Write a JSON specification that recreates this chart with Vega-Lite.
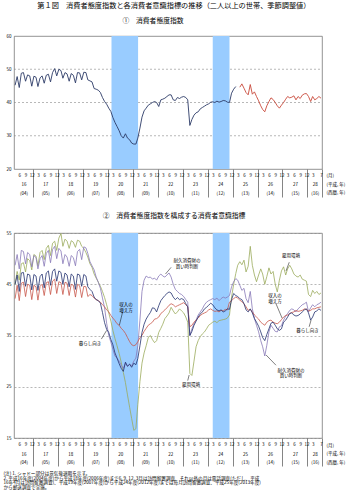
{
"$schema": "https://vega.github.io/schema/vega-lite/v6.json",
"padding": {"left": 2, "top": 1, "right": 2, "bottom": 0},
"background": "white",
"config": {
  "font": "Noto Sans CJK JP",
  "view": {"stroke": "#777", "strokeWidth": 0.8},
  "title": {"fontWeight": "normal", "color": "#000", "subtitleColor": "#000"},
  "axis": {"labelColor": "#000", "titleColor": "#000", "titleFontWeight": "normal"}
},
"title": {"text": "第１図　消費者態度指数と各消費者意識指標の推移（二人以上の世帯、季節調整値）", "fontSize": 7.2, "anchor": "middle", "offset": 9},
"spacing": 14,
"resolve": {"scale": {"color": "independent"}},
"datasets": {
"m": [
{"d":"2004/04/01","i":45.2,"k":45.0,"s":42.2,"y":45.0,"t":48.7},
{"d":"2004/05/01","i":47.8,"k":46.8,"s":44.8,"y":47.5,"t":50.8},
{"d":"2004/06/01","i":44.5,"k":43.6,"s":41.8,"y":45.8,"t":48.0},
{"d":"2004/07/01","i":48.8,"k":47.2,"s":45.2,"y":49.0,"t":51.6},
{"d":"2004/08/01","i":49.0,"k":47.3,"s":45.4,"y":49.2,"t":51.4},
{"d":"2004/09/01","i":46.4,"k":44.6,"s":42.6,"y":47.4,"t":49.0},
{"d":"2004/10/01","i":48.3,"k":47.0,"s":45.0,"y":50.0,"t":51.2},
{"d":"2004/11/01","i":48.0,"k":46.8,"s":44.8,"y":49.6,"t":50.8},
{"d":"2004/12/01","i":44.9,"k":43.9,"s":42.0,"y":47.8,"t":48.4},
{"d":"2005/01/01","i":47.9,"k":46.9,"s":44.8,"y":50.8,"t":50.6},
{"d":"2005/02/01","i":47.6,"k":46.6,"s":44.5,"y":50.5,"t":50.2},
{"d":"2005/03/01","i":44.8,"k":43.8,"s":41.9,"y":48.6,"t":48.0},
{"d":"2005/04/01","i":47.4,"k":46.5,"s":44.6,"y":51.2,"t":50.0},
{"d":"2005/05/01","i":48.0,"k":47.0,"s":45.0,"y":51.6,"t":50.6},
{"d":"2005/06/01","i":45.8,"k":44.3,"s":42.8,"y":49.8,"t":48.5},
{"d":"2005/07/01","i":48.2,"k":47.2,"s":45.3,"y":52.0,"t":51.0},
{"d":"2005/08/01","i":48.5,"k":47.6,"s":45.5,"y":52.6,"t":51.6},
{"d":"2005/09/01","i":46.2,"k":44.8,"s":43.0,"y":50.6,"t":49.2},
{"d":"2005/10/01","i":49.0,"k":47.5,"s":45.6,"y":53.0,"t":51.8},
{"d":"2005/11/01","i":50.2,"k":48.0,"s":46.0,"y":53.4,"t":52.4},
{"d":"2005/12/01","i":48.0,"k":45.6,"s":43.2,"y":51.6,"t":50.0},
{"d":"2006/01/01","i":50.0,"k":47.6,"s":45.5,"y":54.0,"t":52.0},
{"d":"2006/02/01","i":49.6,"k":47.3,"s":45.3,"y":54.9,"t":51.5},
{"d":"2006/03/01","i":47.3,"k":45.0,"s":43.0,"y":52.4,"t":49.0},
{"d":"2006/04/01","i":49.0,"k":47.2,"s":45.4,"y":53.8,"t":50.8},
{"d":"2006/05/01","i":48.6,"k":46.8,"s":45.2,"y":53.4,"t":50.3},
{"d":"2006/06/01","i":46.4,"k":44.5,"s":42.8,"y":52.0,"t":48.5},
{"d":"2006/07/01","i":48.7,"k":47.0,"s":45.0,"y":53.5,"t":50.6},
{"d":"2006/08/01","i":48.2,"k":46.6,"s":44.8,"y":53.2,"t":50.2},
{"d":"2006/09/01","i":45.9,"k":44.0,"s":42.5,"y":52.2,"t":48.6},
{"d":"2006/10/01","i":49.0,"k":47.0,"s":45.0,"y":53.6,"t":51.4},
{"d":"2006/11/01","i":48.9,"k":46.8,"s":44.7,"y":53.4,"t":51.8},
{"d":"2006/12/01","i":46.8,"k":44.6,"s":42.4,"y":52.4,"t":49.8},
{"d":"2007/01/01","i":49.1,"k":46.9,"s":44.6,"y":52.0,"t":52.3},
{"d":"2007/02/01","i":49.0,"k":46.6,"s":44.5,"y":51.2,"t":52.1},
{"d":"2007/03/01","i":46.8,"k":44.5,"s":42.6,"y":50.3,"t":51.0},
{"d":"2007/04/01","i":46.5,"k":44.0,"s":43.0,"y":49.0,"t":49.4},
{"d":"2007/05/01","i":46.2,"k":43.6,"s":42.8,"y":48.3,"t":48.6},
{"d":"2007/06/01","i":44.2,"k":42.5,"s":42.3,"y":47.0,"t":47.8},
{"d":"2007/07/01","i":44.0,"k":42.0,"s":42.0,"y":46.2,"t":46.4},
{"d":"2007/08/01","i":43.7,"k":41.8,"s":41.8,"y":45.4,"t":45.4},
{"d":"2007/09/01","i":43.0,"k":41.3,"s":41.5,"y":44.6,"t":44.2},
{"d":"2007/10/01","i":41.5,"k":39.5,"s":41.0,"y":43.6,"t":42.3},
{"d":"2007/11/01","i":40.3,"k":37.5,"s":40.6,"y":42.4,"t":40.4},
{"d":"2007/12/01","i":39.5,"k":36.2,"s":40.0,"y":41.0,"t":37.4},
{"d":"2008/01/01","i":38.3,"k":35.6,"s":39.6,"y":39.4,"t":35.0},
{"d":"2008/02/01","i":37.3,"k":34.2,"s":38.9,"y":37.8,"t":33.7},
{"d":"2008/03/01","i":35.5,"k":33.2,"s":38.4,"y":36.0,"t":32.3},
{"d":"2008/04/01","i":34.0,"k":31.6,"s":37.9,"y":34.4,"t":31.0},
{"d":"2008/05/01","i":32.8,"k":30.6,"s":37.3,"y":33.0,"t":30.6},
{"d":"2008/06/01","i":31.5,"k":29.5,"s":37.0,"y":31.5,"t":30.0},
{"d":"2008/07/01","i":30.0,"k":28.6,"s":36.4,"y":29.8,"t":29.2},
{"d":"2008/08/01","i":29.3,"k":28.0,"s":36.0,"y":27.8,"t":28.6},
{"d":"2008/09/01","i":30.6,"k":29.8,"s":35.4,"y":25.8,"t":29.6},
{"d":"2008/10/01","i":29.3,"k":29.0,"s":34.6,"y":23.4,"t":29.0},
{"d":"2008/11/01","i":28.8,"k":29.4,"s":33.8,"y":21.0,"t":29.4},
{"d":"2008/12/01","i":27.8,"k":28.8,"s":33.2,"y":18.8,"t":29.1},
{"d":"2009/01/01","i":27.5,"k":29.6,"s":33.0,"y":16.5,"t":30.0},
{"d":"2009/02/01","i":27.5,"k":29.3,"s":33.2,"y":16.8,"t":30.6},
{"d":"2009/03/01","i":29.3,"k":30.5,"s":33.8,"y":21.5,"t":33.0},
{"d":"2009/04/01","i":32.3,"k":33.0,"s":34.6,"y":26.0,"t":38.0},
{"d":"2009/05/01","i":35.6,"k":35.6,"s":35.0,"y":29.6,"t":43.6},
{"d":"2009/06/01","i":37.5,"k":37.2,"s":35.8,"y":31.6,"t":45.8},
{"d":"2009/07/01","i":38.3,"k":38.2,"s":36.4,"y":33.0,"t":46.6},
{"d":"2009/08/01","i":39.2,"k":38.9,"s":37.0,"y":34.6,"t":46.3},
{"d":"2009/09/01","i":39.6,"k":39.5,"s":37.3,"y":35.0,"t":46.4},
{"d":"2009/10/01","i":40.0,"k":40.4,"s":37.6,"y":34.2,"t":46.0},
{"d":"2009/11/01","i":40.3,"k":40.3,"s":38.2,"y":33.6,"t":46.2},
{"d":"2009/12/01","i":40.0,"k":39.6,"s":38.3,"y":34.0,"t":45.8},
{"d":"2010/01/01","i":38.8,"k":40.8,"s":38.6,"y":35.6,"t":46.6},
{"d":"2010/02/01","i":40.8,"k":41.8,"s":39.3,"y":36.4,"t":47.0},
{"d":"2010/03/01","i":41.0,"k":42.3,"s":39.6,"y":37.2,"t":46.6},
{"d":"2010/04/01","i":41.3,"k":42.8,"s":40.0,"y":38.3,"t":46.4},
{"d":"2010/05/01","i":41.8,"k":43.2,"s":40.4,"y":38.8,"t":46.8},
{"d":"2010/06/01","i":42.3,"k":43.5,"s":40.9,"y":39.4,"t":47.2},
{"d":"2010/07/01","i":42.3,"k":43.3,"s":41.2,"y":40.5,"t":46.4},
{"d":"2010/08/01","i":40.8,"k":42.5,"s":41.0,"y":39.8,"t":45.0},
{"d":"2010/09/01","i":40.6,"k":42.0,"s":40.6,"y":39.2,"t":44.0},
{"d":"2010/10/01","i":41.5,"k":42.4,"s":40.8,"y":39.6,"t":43.6},
{"d":"2010/11/01","i":41.2,"k":42.0,"s":41.0,"y":40.2,"t":43.2},
{"d":"2010/12/01","i":41.6,"k":42.2,"s":41.2,"y":39.8,"t":43.0},
{"d":"2011/01/01","i":41.8,"k":42.0,"s":41.4,"y":39.4,"t":42.6},
{"d":"2011/02/01","i":41.5,"k":41.2,"s":41.0,"y":38.6,"t":42.0},
{"d":"2011/03/01","i":40.8,"k":40.6,"s":40.6,"y":37.6,"t":41.5},
{"d":"2011/04/01","i":33.1,"k":35.0,"s":36.7,"y":27.6,"t":35.0},
{"d":"2011/05/01","i":34.9,"k":35.8,"s":37.0,"y":27.2,"t":36.3},
{"d":"2011/06/01","i":36.2,"k":37.0,"s":37.6,"y":30.0,"t":37.3},
{"d":"2011/07/01","i":36.9,"k":37.8,"s":38.0,"y":32.8,"t":38.0},
{"d":"2011/08/01","i":37.2,"k":38.6,"s":38.4,"y":34.0,"t":39.0},
{"d":"2011/09/01","i":38.1,"k":39.2,"s":38.9,"y":34.8,"t":39.6},
{"d":"2011/10/01","i":38.5,"k":39.6,"s":39.2,"y":35.3,"t":40.2},
{"d":"2011/11/01","i":38.9,"k":40.2,"s":39.4,"y":35.7,"t":41.0},
{"d":"2011/12/01","i":39.3,"k":40.5,"s":39.6,"y":36.3,"t":41.5},
{"d":"2012/01/01","i":39.6,"k":40.9,"s":40.0,"y":37.0,"t":41.8},
{"d":"2012/02/01","i":40.1,"k":41.3,"s":40.2,"y":37.3,"t":42.0},
{"d":"2012/03/01","i":40.2,"k":41.0,"s":39.9,"y":37.6,"t":42.2},
{"d":"2012/04/01","i":40.0,"k":40.4,"s":39.7,"y":37.8,"t":42.0},
{"d":"2012/05/01","i":40.4,"k":40.0,"s":39.8,"y":37.5,"t":42.3},
{"d":"2012/06/01","i":40.1,"k":39.8,"s":39.6,"y":37.9,"t":41.8},
{"d":"2012/07/01","i":40.3,"k":40.0,"s":39.9,"y":38.0,"t":42.2},
{"d":"2012/08/01","i":40.6,"k":39.6,"s":39.8,"y":38.1,"t":42.5},
{"d":"2012/09/01","i":40.5,"k":39.8,"s":40.1,"y":38.2,"t":42.3},
{"d":"2012/10/01","i":40.1,"k":40.2,"s":40.0,"y":38.4,"t":42.5},
{"d":"2012/11/01","i":40.0,"k":40.1,"s":41.5,"y":39.0,"t":42.8},
{"d":"2012/12/01","i":42.8,"k":42.0,"s":41.8,"y":42.5,"t":44.5},
{"d":"2013/01/01","i":44.0,"k":43.2,"s":42.2,"y":45.0,"t":45.5},
{"d":"2013/02/01","i":44.8,"k":42.8,"s":42.5,"y":47.1,"t":46.1},
{"d":"2013/03/01","k":42.6,"s":42.3,"y":48.7,"t":45.8},
{"d":"2013/04/01","j":44.6,"k":42.2,"s":41.9,"y":49.4,"t":44.8},
{"d":"2013/05/01","j":45.6,"k":42.0,"s":41.6,"y":48.8,"t":43.8},
{"d":"2013/06/01","j":44.3,"k":41.2,"s":41.2,"y":49.7,"t":44.2},
{"d":"2013/07/01","j":43.0,"k":40.0,"s":40.6,"y":47.4,"t":42.2},
{"d":"2013/08/01","j":42.3,"k":39.6,"s":39.9,"y":48.5,"t":41.4},
{"d":"2013/09/01","j":45.4,"k":40.2,"s":40.1,"y":52.4,"t":43.6},
{"d":"2013/10/01","j":42.5,"k":39.4,"s":39.6,"y":48.7,"t":40.2},
{"d":"2013/11/01","j":43.2,"k":38.3,"s":39.0,"y":46.8,"t":38.3},
{"d":"2013/12/01","j":41.8,"k":37.6,"s":38.6,"y":45.5,"t":37.0},
{"d":"2014/01/01","j":40.5,"k":36.8,"s":38.2,"y":46.8,"t":35.7},
{"d":"2014/02/01","j":39.0,"k":35.7,"s":37.6,"y":48.0,"t":34.0},
{"d":"2014/03/01","j":37.9,"k":34.6,"s":37.3,"y":47.0,"t":32.8},
{"d":"2014/04/01","j":37.2,"k":34.0,"s":37.0,"y":45.0,"t":31.0},
{"d":"2014/05/01","j":39.0,"k":35.2,"s":37.6,"y":46.5,"t":33.1},
{"d":"2014/06/01","j":40.3,"k":36.3,"s":37.9,"y":48.2,"t":35.7},
{"d":"2014/07/01","j":41.4,"k":37.4,"s":38.0,"y":47.0,"t":37.0},
{"d":"2014/08/01","j":40.9,"k":37.6,"s":37.6,"y":47.5,"t":36.4},
{"d":"2014/09/01","j":40.0,"k":37.0,"s":37.4,"y":45.0,"t":35.8},
{"d":"2014/10/01","j":39.0,"k":36.3,"s":37.3,"y":43.5,"t":35.7},
{"d":"2014/11/01","j":38.3,"k":36.0,"s":37.6,"y":45.8,"t":36.7},
{"d":"2014/12/01","j":39.2,"k":36.3,"s":38.1,"y":47.6,"t":36.9},
{"d":"2015/01/01","j":40.0,"k":37.6,"s":38.6,"y":48.4,"t":38.0},
{"d":"2015/02/01","j":41.0,"k":38.0,"s":38.9,"y":46.8,"t":38.8},
{"d":"2015/03/01","j":41.8,"k":38.6,"s":39.0,"y":48.0,"t":39.3},
{"d":"2015/04/01","j":41.4,"k":39.3,"s":39.3,"y":48.7,"t":39.9},
{"d":"2015/05/01","j":41.6,"k":39.4,"s":39.5,"y":48.0,"t":40.2},
{"d":"2015/06/01","j":42.0,"k":39.0,"s":39.6,"y":47.0,"t":40.0},
{"d":"2015/07/01","j":40.8,"k":38.8,"s":39.9,"y":46.6,"t":39.6},
{"d":"2015/08/01","j":41.8,"k":38.9,"s":39.7,"y":46.4,"t":40.2},
{"d":"2015/09/01","j":41.2,"k":39.2,"s":39.8,"y":46.8,"t":40.6},
{"d":"2015/10/01","j":42.2,"k":39.6,"s":39.9,"y":46.0,"t":41.0},
{"d":"2015/11/01","j":42.6,"k":40.0,"s":40.2,"y":45.8,"t":41.2},
{"d":"2015/12/01","j":42.7,"k":40.2,"s":40.1,"y":45.6,"t":41.5},
{"d":"2016/01/01","j":41.8,"k":39.4,"s":39.8,"y":43.0,"t":39.6},
{"d":"2016/02/01","j":40.3,"k":38.0,"s":39.9,"y":42.6,"t":40.4},
{"d":"2016/03/01","j":41.8,"k":38.6,"s":40.2,"y":43.8,"t":41.0},
{"d":"2016/04/01","j":40.8,"k":39.6,"s":40.2,"y":43.2,"t":40.6},
{"d":"2016/05/01","j":41.2,"k":39.8,"s":40.4,"y":43.6,"t":41.0},
{"d":"2016/06/01","j":41.8,"k":40.2,"s":40.5,"y":43.0,"t":41.2},
{"d":"2016/07/01","j":41.3,"k":39.9,"s":40.6,"y":43.3,"t":41.5}
],
"shade": [{"s":"2008/02/10","e":"2009/03/05"},{"s":"2012/03/01","e":"2012/11/01"}],
"grid1": [{"g":30,"a":"2004/03/16","b":"2016/07/16"},{"g":40,"a":"2004/03/16","b":"2016/07/16"},{"g":50,"a":"2004/03/16","b":"2016/07/16"}],
"ann": [
{"d":"2011/02/19","v":49.5,"t":"耐久消費財の\n買い時判断"},
{"d":"2008/09/10","v":40.9,"t":"収入の\n増え方"},
{"d":"2007/04/01","v":33.4,"t":"暮らし向き"},
{"d":"2015/04/19","v":50.5,"t":"雇用環境"},
{"d":"2011/04/19","v":25.3,"t":"雇用環境"},
{"d":"2014/08/28","v":42.7,"t":"収入の\n増え方"},
{"d":"2015/12/16","v":35.8,"t":"暮らし向き"},
{"d":"2015/04/19","v":28.1,"t":"耐久消費財の\n買い時判断"}
],
"lead": [
{"d":"2010/07/01","v":48.3,"d2":"2010/04/10","v2":47.0},
{"d":"2008/07/22","v":39.6,"d2":"2008/06/04","v2":37.0},
{"d":"2007/09/15","v":34.3,"d2":"2007/12/01","v2":36.0},
{"d":"2015/03/25","v":49.3,"d2":"2015/02/06","v2":47.6},
{"d":"2011/03/01","v":26.2,"d2":"2011/03/22","v2":27.3},
{"d":"2014/09/12","v":41.2,"d2":"2014/12/10","v2":38.4},
{"d":"2016/01/10","v":36.7,"d2":"2016/02/07","v2":38.0},
{"d":"2014/09/12","v":29.2,"d2":"2014/04/20","v2":31.2}
]
},
"vconcat": [
{
 "width": 308, "height": 133,
 "title": {"text": "①　消費者態度指数", "fontSize": 6.8, "offset": 8, "dx": -15},
 "resolve": {"axis": {"x": "independent"}},
 "layer": [
  {"data": {"name": "grid1", "format": {"parse": {"a": "date", "b": "date"}}},
   "mark": {"type": "rule", "color": "#888", "strokeWidth": 0.6, "strokeDash": [2, 2]},
   "encoding": {
    "x": {"field": "a", "type": "temporal", "scale": {"domain": [{"year":2004,"month":3,"date":16},{"year":2016,"month":7,"date":16}], "nice": false},
      "axis": {"orient": "bottom", "values": [{"year":2004,"month":8,"date":2},{"year":2005,"month":6,"date":17},{"year":2006,"month":6,"date":17},{"year":2007,"month":6,"date":17},
{"year":2008,"month":6,"date":17},{"year":2009,"month":6,"date":17},{"year":2010,"month":6,"date":17},{"year":2011,"month":6,"date":17},
{"year":2012,"month":6,"date":17},{"year":2013,"month":6,"date":17},{"year":2014,"month":6,"date":17},{"year":2015,"month":6,"date":17},
{"year":2016,"month":4,"date":2}],
        "labelExpr": "[toString(year(datum.value)-1988), '(' + timeFormat(datum.value, '%y') + ')']",
        "ticks": false, "labelPadding": 12.5, "labelLineHeight": 8.5,
        "labelFontSize": 4.5, "labelOverlap": false, "labelFlush": false, "labelBound": false, "grid": false, "domain": false,
        "title": ["(平成, 年)", "(西暦, 年)"], "titleX": 312, "titleY": 12, "titleAlign": "left", "titleBaseline": "top", "titleFontSize": 4.5, "titleLineHeight": 8.5, "titleAngle": 0}},
    "x2": {"field": "b"},
    "y": {"field": "g", "type": "quantitative", "scale": {"domain": [20, 60], "nice": false, "zero": false},
      "axis": {"values": [20, 30, 40, 50, 60], "grid": false,
               "domain": false, "ticks": false, "labelFontSize": 4.5, "labelPadding": 3, "title": null, "labelOverlap": false}}
   }},
  {"data": {"name": "shade", "format": {"parse": {"s": "date", "e": "date"}}},
   "mark": {"type": "rect", "color": "#99ccff"},
   "encoding": {
    "x": {"field": "s", "type": "temporal",
      "scale": {"domain": [{"year":2004,"month":3,"date":16},{"year":2016,"month":7,"date":16}], "nice": false},
      "axis": {"orient": "bottom", "values": [{"year":2004,"month":12,"date":16},{"year":2005,"month":12,"date":16},{"year":2006,"month":12,"date":16},{"year":2007,"month":12,"date":16},
{"year":2008,"month":12,"date":16},{"year":2009,"month":12,"date":16},{"year":2010,"month":12,"date":16},{"year":2011,"month":12,"date":16},
{"year":2012,"month":12,"date":16},{"year":2013,"month":12,"date":16},{"year":2014,"month":12,"date":16},{"year":2015,"month":12,"date":16},
{"year":2016,"month":7,"date":16}],
        "labels": false, "tickSize": 28, "tickColor": "#666", "tickWidth": 0.8, "grid": false, "domain": false, "title": null}},
    "x2": {"field": "e"}
   }},
  {"data": {"name": "m"},
   "transform": [{"fold": ["i", "j"], "as": ["ser", "val"]}, {"filter": "isValid(datum.val)"}],
   "mark": {"type": "line", "strokeWidth": 0.9},
   "encoding": {
    "x": {"field": "d", "type": "temporal", "scale": {"domain": [{"year":2004,"month":3,"date":16},{"year":2016,"month":7,"date":16}], "nice": false},
      "axis": {"orient": "bottom", "values": [{"year":2004,"month":6,"date":1},{"year":2004,"month":9,"date":1},{"year":2004,"month":12,"date":1},
{"year":2005,"month":3,"date":1},{"year":2005,"month":6,"date":1},{"year":2005,"month":9,"date":1},{"year":2005,"month":12,"date":1},
{"year":2006,"month":3,"date":1},{"year":2006,"month":6,"date":1},{"year":2006,"month":9,"date":1},{"year":2006,"month":12,"date":1},
{"year":2007,"month":3,"date":1},{"year":2007,"month":6,"date":1},{"year":2007,"month":9,"date":1},{"year":2007,"month":12,"date":1},
{"year":2008,"month":3,"date":1},{"year":2008,"month":6,"date":1},{"year":2008,"month":9,"date":1},{"year":2008,"month":12,"date":1},
{"year":2009,"month":3,"date":1},{"year":2009,"month":6,"date":1},{"year":2009,"month":9,"date":1},{"year":2009,"month":12,"date":1},
{"year":2010,"month":3,"date":1},{"year":2010,"month":6,"date":1},{"year":2010,"month":9,"date":1},{"year":2010,"month":12,"date":1},
{"year":2011,"month":3,"date":1},{"year":2011,"month":6,"date":1},{"year":2011,"month":9,"date":1},{"year":2011,"month":12,"date":1},
{"year":2012,"month":3,"date":1},{"year":2012,"month":6,"date":1},{"year":2012,"month":9,"date":1},{"year":2012,"month":12,"date":1},
{"year":2013,"month":3,"date":1},{"year":2013,"month":6,"date":1},{"year":2013,"month":9,"date":1},{"year":2013,"month":12,"date":1},
{"year":2014,"month":3,"date":1},{"year":2014,"month":6,"date":1},{"year":2014,"month":9,"date":1},{"year":2014,"month":12,"date":1},
{"year":2015,"month":3,"date":1},{"year":2015,"month":6,"date":1},{"year":2015,"month":9,"date":1},{"year":2015,"month":12,"date":1},
{"year":2016,"month":3,"date":1},{"year":2016,"month":7,"date":1}],
        "labelExpr": "toString(month(datum.value)+1)", "ticks": false, "labelPadding": 3,
        "labelFontSize": 4.5, "labelOverlap": false, "labelFlush": false, "labelBound": false, "grid": false, "domain": false,
        "title": "(月)", "titleX": 312, "titleY": 3.5, "titleAlign": "left", "titleBaseline": "top", "titleFontSize": 4.5, "titleAngle": 0}},
    "y": {"field": "val", "type": "quantitative", "scale": {"domain": [20, 60], "nice": false, "zero": false},
      "axis": {"values": [20, 30, 40, 50, 60], "grid": false,
               "domain": false, "ticks": false, "labelFontSize": 4.5, "labelPadding": 3, "title": null, "labelOverlap": false}},
    "color": {"field": "ser", "type": "nominal", "scale": {"domain": ["i", "j"], "range": ["#2b3a67", "#c8483a"]}, "legend": null}
   }}
 ]
},
{
 "width": 308, "height": 205,
 "title": {"text": "②　消費者態度指数を構成する消費者意識指標", "fontSize": 6.8, "offset": 10, "dx": 6},
 "resolve": {"axis": {"x": "independent"}},
 "layer": [
  {"data": {"name": "shade", "format": {"parse": {"s": "date", "e": "date"}}},
   "mark": {"type": "rect", "color": "#99ccff"},
   "encoding": {
    "x": {"field": "s", "type": "temporal",
      "scale": {"domain": [{"year":2004,"month":3,"date":16},{"year":2016,"month":7,"date":16}], "nice": false},
      "axis": {"orient": "bottom", "values": [{"year":2004,"month":12,"date":16},{"year":2005,"month":12,"date":16},{"year":2006,"month":12,"date":16},{"year":2007,"month":12,"date":16},
{"year":2008,"month":12,"date":16},{"year":2009,"month":12,"date":16},{"year":2010,"month":12,"date":16},{"year":2011,"month":12,"date":16},
{"year":2012,"month":12,"date":16},{"year":2013,"month":12,"date":16},{"year":2014,"month":12,"date":16},{"year":2015,"month":12,"date":16},
{"year":2016,"month":7,"date":16}],
        "labels": false, "tickSize": 28, "tickColor": "#666", "tickWidth": 0.8, "grid": false, "domain": false, "title": null}},
    "x2": {"field": "e"}
   }},
  {"data": {"name": "m"},
   "transform": [{"fold": ["y", "t", "s", "k"], "as": ["ser", "val"]}, {"filter": "isValid(datum.val)"}],
   "mark": {"type": "line", "strokeWidth": 0.8},
   "encoding": {
    "x": {"field": "d", "type": "temporal", "scale": {"domain": [{"year":2004,"month":3,"date":16},{"year":2016,"month":7,"date":16}], "nice": false},
      "axis": {"orient": "bottom", "values": [{"year":2004,"month":6,"date":1},{"year":2004,"month":9,"date":1},{"year":2004,"month":12,"date":1},
{"year":2005,"month":3,"date":1},{"year":2005,"month":6,"date":1},{"year":2005,"month":9,"date":1},{"year":2005,"month":12,"date":1},
{"year":2006,"month":3,"date":1},{"year":2006,"month":6,"date":1},{"year":2006,"month":9,"date":1},{"year":2006,"month":12,"date":1},
{"year":2007,"month":3,"date":1},{"year":2007,"month":6,"date":1},{"year":2007,"month":9,"date":1},{"year":2007,"month":12,"date":1},
{"year":2008,"month":3,"date":1},{"year":2008,"month":6,"date":1},{"year":2008,"month":9,"date":1},{"year":2008,"month":12,"date":1},
{"year":2009,"month":3,"date":1},{"year":2009,"month":6,"date":1},{"year":2009,"month":9,"date":1},{"year":2009,"month":12,"date":1},
{"year":2010,"month":3,"date":1},{"year":2010,"month":6,"date":1},{"year":2010,"month":9,"date":1},{"year":2010,"month":12,"date":1},
{"year":2011,"month":3,"date":1},{"year":2011,"month":6,"date":1},{"year":2011,"month":9,"date":1},{"year":2011,"month":12,"date":1},
{"year":2012,"month":3,"date":1},{"year":2012,"month":6,"date":1},{"year":2012,"month":9,"date":1},{"year":2012,"month":12,"date":1},
{"year":2013,"month":3,"date":1},{"year":2013,"month":6,"date":1},{"year":2013,"month":9,"date":1},{"year":2013,"month":12,"date":1},
{"year":2014,"month":3,"date":1},{"year":2014,"month":6,"date":1},{"year":2014,"month":9,"date":1},{"year":2014,"month":12,"date":1},
{"year":2015,"month":3,"date":1},{"year":2015,"month":6,"date":1},{"year":2015,"month":9,"date":1},{"year":2015,"month":12,"date":1},
{"year":2016,"month":3,"date":1},{"year":2016,"month":7,"date":1}],
        "labelExpr": "toString(month(datum.value)+1)", "ticks": false, "labelPadding": 3.5,
        "labelFontSize": 4.5, "labelOverlap": false, "labelFlush": false, "labelBound": false, "grid": false, "domain": false,
        "title": "(月)", "titleX": 312, "titleY": 4, "titleAlign": "left", "titleBaseline": "top", "titleFontSize": 4.5, "titleAngle": 0}},
    "y": {"field": "val", "type": "quantitative", "scale": {"domain": [15, 55], "nice": false, "zero": false},
      "axis": {"values": [15, 25, 35, 45, 55], "grid": true, "gridDash": [2, 2], "gridColor": "#888", "gridWidth": 0.6,
               "domain": false, "ticks": false, "labelFontSize": 4.5, "labelPadding": 3,
               "title": ["(注) 1. シャドー部分は景気後退期を示す。",
                         "　　 2. 平成16年度(2004年度)から平成18年度(2006年度)まで6, 9, 12, 3月は訪問留置調査、それ以外の月は電話調査(ただし、平成",
                         "　　　 16年4月は訪問留置調査)、平成19年度(2007年度)から平成24年度(2012年度)までは毎月訪問留置調査、平成25年度(2013年度)",
                         "　　　 から郵送調査で実施。"],
               "titleAngle": 0, "titleX": -11, "titleY": 237.5, "titleAlign": "left", "titleBaseline": "top",
               "titleFontSize": 4.6, "titleLineHeight": 4.7}},
    "color": {"field": "ser", "type": "nominal", "scale": {"domain": ["y", "t", "s", "k"], "range": ["#9bab5c", "#8878b8", "#c8574a", "#22306e"]}, "legend": null}
   }},
  {"data": {"name": "lead", "format": {"parse": {"d": "date", "d2": "date"}}},
   "mark": {"type": "rule", "color": "#000", "strokeWidth": 0.5},
   "encoding": {
    "x": {"field": "d", "type": "temporal", "scale": {"domain": [{"year":2004,"month":3,"date":16},{"year":2016,"month":7,"date":16}], "nice": false},
      "axis": {"orient": "bottom", "values": [{"year":2004,"month":8,"date":2},{"year":2005,"month":6,"date":17},{"year":2006,"month":6,"date":17},{"year":2007,"month":6,"date":17},
{"year":2008,"month":6,"date":17},{"year":2009,"month":6,"date":17},{"year":2010,"month":6,"date":17},{"year":2011,"month":6,"date":17},
{"year":2012,"month":6,"date":17},{"year":2013,"month":6,"date":17},{"year":2014,"month":6,"date":17},{"year":2015,"month":6,"date":17},
{"year":2016,"month":4,"date":2}],
        "labelExpr": "[toString(year(datum.value)-1988), '(' + timeFormat(datum.value, '%y') + ')']",
        "ticks": false, "labelPadding": 13, "labelLineHeight": 8.5,
        "labelFontSize": 4.5, "labelOverlap": false, "labelFlush": false, "labelBound": false, "grid": false, "domain": false,
        "title": ["(平成, 年)", "(西暦, 年)"], "titleX": 312, "titleY": 12.5, "titleAlign": "left", "titleBaseline": "top", "titleFontSize": 4.5, "titleLineHeight": 8.5, "titleAngle": 0}},
    "x2": {"field": "d2"},
    "y": {"field": "v", "type": "quantitative", "scale": {"domain": [15, 55], "nice": false, "zero": false}},
    "y2": {"field": "v2"}
   }},
  {"data": {"name": "ann", "format": {"parse": {"d": "date"}}},
   "mark": {"type": "text", "fontSize": 4.5, "lineBreak": "\n", "align": "center", "baseline": "middle", "color": "#000", "lineHeight": 5.5},
   "encoding": {
    "x": {"field": "d", "type": "temporal", "scale": {"domain": [{"year":2004,"month":3,"date":16},{"year":2016,"month":7,"date":16}], "nice": false}, "axis": null},
    "y": {"field": "v", "type": "quantitative", "scale": {"domain": [15, 55], "nice": false, "zero": false}},
    "text": {"field": "t"}
   }}
 ]
}
]
}
